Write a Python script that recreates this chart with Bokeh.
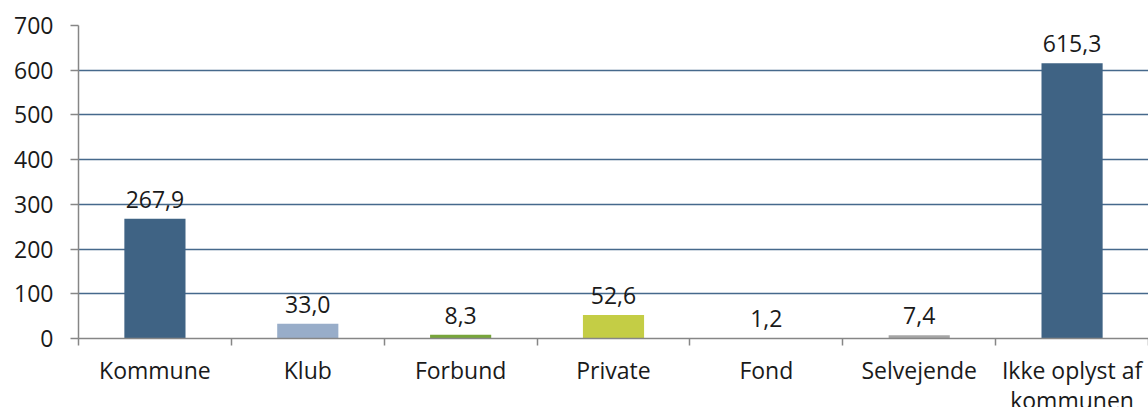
from bokeh.plotting import figure
from bokeh.models import Range1d, FixedTicker, LinearAxis, ColumnDataSource, LabelSet
from bokeh.core.properties import value
from bokeh.embed import file_html
from bokeh.resources import INLINE

categories = ["Kommune", "Klub", "Forbund", "Private", "Fond", "Selvejende", "Ikke oplyst af\nkommunen"]
values = [267.9, 33.0, 8.3, 52.6, 1.2, 7.4, 615.3]
colors = ["#3f6384", "#98adc9", "#77a53a", "#c4cd45", "#8064a2", "#a6a6a6", "#3f6384"]
y_ticks = [0, 100, 200, 300, 400, 500, 600, 700]

FONT = "Open Sans"
FS = "23px"
TXT = "#1a1a1a"

n = len(categories)
xs = [i + 0.5 for i in range(n)]
labels = [f"{v:.1f}".replace(".", ",") for v in values]
src = ColumnDataSource(dict(x=xs, top=values, color=colors, label=labels))

p = figure(frame_width=1070, frame_height=313, output_backend="svg", toolbar_location=None,
           x_range=Range1d(0, n), y_range=Range1d(0, 700),
           min_border_left=78, min_border_right=0, min_border_top=25, min_border_bottom=0,
           x_axis_location=None)
p.outline_line_color = None
p.background_fill_color = "white"
p.border_fill_color = "white"

p.vbar(x="x", top="top", bottom=0, width=0.4, fill_color="color", line_color=None, source=src)

# y axis
ya = p.yaxis[0]
ya.ticker = FixedTicker(ticks=y_ticks)
ya.axis_line_color = "#868686"
ya.axis_line_width = 1.5
ya.major_tick_line_color = "#868686"
ya.major_tick_line_width = 1.5
ya.major_tick_out = 8
ya.major_tick_in = 0
ya.minor_tick_line_color = None
ya.major_label_text_font = FONT
ya.major_label_text_font_size = FS
ya.major_label_text_color = TXT
ya.major_label_standoff = 17

p.ygrid.ticker = FixedTicker(ticks=y_ticks[1:])
p.ygrid.grid_line_color = "#46698c"
p.ygrid.grid_line_width = 1.5
p.xgrid.grid_line_color = None

# x axis
xa = LinearAxis(ticker=FixedTicker(ticks=xs, minor_ticks=list(range(n + 1))))
xa.major_label_overrides = {x: c for x, c in zip(xs, categories)}
xa.axis_line_color = "#868686"
xa.axis_line_width = 1.5
xa.major_tick_line_color = None
xa.major_tick_out = 0
xa.major_tick_in = 0
xa.minor_tick_line_color = "#868686"
xa.minor_tick_line_width = 1.5
xa.minor_tick_out = 7
xa.minor_tick_in = 0
xa.major_label_text_font = FONT
xa.major_label_text_font_size = FS
xa.major_label_text_color = TXT
xa.major_label_text_line_height = 0.95
xa.major_label_standoff = 8
p.add_layout(xa, "below")

lbl = LabelSet(x="x", y="top", text="label", source=src, text_align="center",
               text_baseline="alphabetic", y_offset=11, text_font=value(FONT),
               text_font_size=FS, text_color=TXT)
p.add_layout(lbl)

open("out.html", "w").write(file_html(p, INLINE))
